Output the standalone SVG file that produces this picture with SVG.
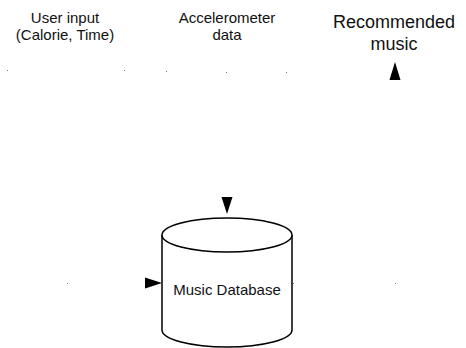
<svg xmlns="http://www.w3.org/2000/svg" width="466" height="348" viewBox="0 0 466 348">
  <style>
    .lbl { font-family: "Liberation Sans", Arial, sans-serif; fill: #111; text-anchor: middle; }
    .sm { font-size: 15px; }
    .lg { font-size: 18px; }
    .db { fill: #fff; stroke: #000; stroke-width: 1.5; }
    .head { fill: #000; }
    .dot { fill: #777; }
  </style>
  <rect width="466" height="348" fill="#fff"/>

  <g id="user-input">
    <text class="lbl sm" x="65" y="23">User input</text>
    <text class="lbl sm" x="65" y="40">(Calorie, Time)</text>
  </g>

  <g id="accelerometer-data">
    <text class="lbl sm" x="227" y="23">Accelerometer</text>
    <text class="lbl sm" x="227" y="40">data</text>
  </g>

  <g id="recommended-music">
    <text class="lbl lg" x="394" y="28">Recommended</text>
    <text class="lbl lg" x="394" y="50">music</text>
  </g>

  <g id="music-database">
    <path class="db" d="M162,235 L162,330 A65,17 0 0 0 292,330 L292,235"/>
    <ellipse class="db" cx="227" cy="235" rx="65" ry="17"/>
    <text class="lbl sm" x="227" y="295">Music Database</text>
  </g>

  <g id="connectors">
    <polygon class="head" points="395,62 389.5,80 400.5,80"/>
    <polygon class="head" points="227,214 221.5,197 232.5,197"/>
    <polygon class="head" points="162,283 145,277.5 145,288.5"/>
    <rect class="dot" x="7" y="70" width="1" height="1"/>
    <rect class="dot" x="124" y="70" width="1" height="1"/>
    <rect class="dot" x="166" y="71" width="1" height="1"/>
    <rect class="dot" x="226" y="72" width="1" height="1"/>
    <rect class="dot" x="286" y="72" width="1" height="1"/>
    <rect class="dot" x="67" y="283" width="1" height="1"/>
    <rect class="dot" x="293" y="283" width="1" height="1"/>
    <rect class="dot" x="395" y="283" width="1" height="1"/>
  </g>
</svg>
